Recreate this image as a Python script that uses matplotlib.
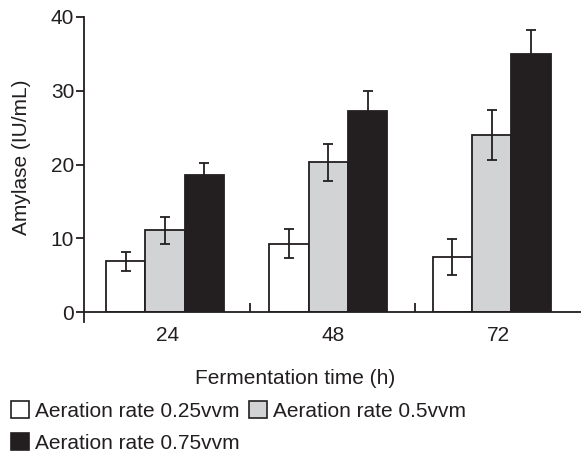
import numpy as np
import matplotlib.pyplot as plt
from matplotlib.patches import Patch

plt.rcParams['font.family'] = ['Liberation Sans', 'DejaVu Sans']

# data
times = ['24', '48', '72']
series = ['Aeration rate 0.25vvm', 'Aeration rate 0.5vvm', 'Aeration rate 0.75vvm']
amylase_025 = [6.9, 9.3, 7.5]
amylase_05 = [11.1, 20.3, 24.0]
amylase_075 = [18.6, 27.3, 35.0]
err_025 = [1.3, 2.0, 2.4]
err_05 = [1.8, 2.5, 3.4]
err_075 = [1.6, 2.6, 3.2]

ink = '#231f20'
fills = ['white', '#d1d3d4', ink]
fs = 15

fig = plt.figure(figsize=(5.81, 4.53), dpi=100)
ax = fig.add_axes([84.3 / 581, 0.3106, 1 - 84.3 / 581, 0.6525])

w = 0.237
centers = 0.4875 + 0.9865 * np.arange(len(times))
values = [amylase_025, amylase_05, amylase_075]
errors = [err_025, err_05, err_075]
for k in range(3):
    ax.bar(centers + (k - 1) * w, values[k], w, color=fills[k], edgecolor=ink,
           linewidth=1.3, yerr=errors[k], capsize=3.6,
           error_kw=dict(ecolor=ink, elinewidth=1.3, capthick=1.3), zorder=2)

ax.set_xlim(0, 3)
ax.set_ylim(0, 40)
ax.set_yticks([0, 10, 20, 30, 40])
ax.set_xticks(np.arange(3) + 0.5)
ax.set_xticklabels(times)
ax.set_xticks([1, 2], minor=True)
ax.tick_params(axis='x', which='major', length=0, pad=10, labelsize=fs, colors=ink)
ax.tick_params(axis='x', which='minor', direction='in', length=6.5, width=1.3, color=ink)
ax.tick_params(axis='y', direction='out', length=5.8, width=1.3, pad=1.5, labelsize=fs, colors=ink)

for s in ['top', 'right']:
    ax.spines[s].set_visible(False)
for s in ['left', 'bottom']:
    ax.spines[s].set_color(ink)
    ax.spines[s].set_linewidth(1.3)
# left spine runs a little below the x axis
ax.plot([0, 0], [0, -0.032], transform=ax.transAxes, color=ink, lw=1.3, clip_on=False)

fig.text(22 / 581, 1 - 157 / 453, 'Amylase (IU/mL)', rotation=90, ha='center', va='center',
         fontsize=fs, color=ink)
fig.text(295 / 581, 1 - 378 / 453, 'Fermentation time (h)', ha='center', va='center',
         fontsize=fs, color=ink)

handles = [Patch(facecolor=fills[k], edgecolor=ink, linewidth=1.2, label=series[k]) for k in range(3)]
order = [0, 2, 1]
leg = fig.legend([handles[i] for i in order], [series[i] for i in order], ncol=2,
                 loc='upper left', bbox_to_anchor=(11 / 581, 1 - 401 / 453), frameon=False,
                 fontsize=fs, borderpad=0, borderaxespad=0, handlelength=0.85, handleheight=0.85,
                 handletextpad=0.3, columnspacing=0.45, labelspacing=0.6)
for t in leg.get_texts():
    t.set_color(ink)

fig.savefig('out.png', dpi=100)
